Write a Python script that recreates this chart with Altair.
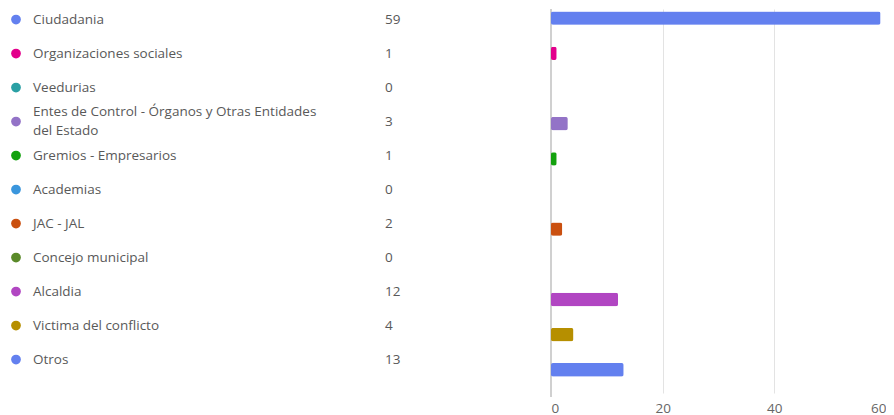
import altair as alt
import pandas as pd

categories = [
    "Ciudadania",
    "Organizaciones sociales",
    "Veedurias",
    "Entes de Control - Órganos y Otras Entidades del Estado",
    "Gremios - Empresarios",
    "Academias",
    "JAC - JAL",
    "Concejo municipal",
    "Alcaldia",
    "Victima del conflicto",
    "Otros",
]
values = [59, 1, 0, 3, 1, 0, 2, 0, 12, 4, 13]
colors = [
    "#6380EF", "#E3008C", "#2AA0A4", "#9373C7", "#13A10E", "#3A96DD",
    "#CA5010", "#5A8A29", "#B146C2", "#B68F00", "#6380EF",
]
x_ticks = [0, 20, 40, 60]

labels = [c.replace(" del Estado", "\ndel Estado") for c in categories]

df = pd.DataFrame({
    "cat": categories,
    "label": labels,
    "value": values,
    "color": colors,
})

FONT = "Open Sans"
TEXT_COLOR = "#595959"
FS = 13.5
H = 384
LINE_H = 19

y_left = alt.Y("cat:N", sort=categories, axis=None,
               scale=alt.Scale(type="point", padding=0.647, align=0.24))

dots = alt.Chart(df).mark_circle(size=95, opacity=1).encode(
    x=alt.value(8),
    y=y_left,
    color=alt.Color("color:N", scale=None),
)

names_single = alt.Chart(df).transform_filter(
    "indexof(datum.label, '\\n') < 0"
).mark_text(
    align="left", baseline="middle", font=FONT, fontSize=FS,
    color=TEXT_COLOR,
).encode(
    x=alt.value(25),
    y=y_left,
    text="label:N",
)

names_multi = alt.Chart(df).transform_filter(
    "indexof(datum.label, '\\n') >= 0"
).mark_text(
    align="left", baseline="middle", font=FONT, fontSize=FS,
    color=TEXT_COLOR, lineBreak="\n", lineHeight=LINE_H, dy=-LINE_H / 2,
).encode(
    x=alt.value(25),
    y=y_left,
    text="label:N",
)

nums = alt.Chart(df).mark_text(
    align="left", baseline="middle", font=FONT, fontSize=FS, color=TEXT_COLOR,
).encode(
    x=alt.value(377),
    y=y_left,
    text="value:Q",
)

left = alt.layer(dots, names_single, names_multi, nums).properties(width=400, height=H)

x_enc = alt.X("value:Q", scale=alt.Scale(domain=[0, 60], nice=False),
              axis=alt.Axis(values=x_ticks, title=None, grid=True, ticks=False,
                            domain=False, labelFont=FONT, labelFontSize=FS,
                            labelColor="#666666", labelPadding=8,
                            gridColor="#e3e3e3", gridWidth=1))

bars = alt.Chart(df).mark_bar(
    cornerRadius=2, strokeWidth=1, strokeOpacity=0.35,
).encode(
    x=x_enc,
    y=alt.Y("cat:N", sort=categories, axis=None,
            scale=alt.Scale(paddingInner=0.62, paddingOuter=0.27, align=0.13)),
    color=alt.Color("color:N", scale=None),
    stroke=alt.Color("color:N", scale=None),
)

zero_line = alt.Chart(pd.DataFrame({"value": [x_ticks[0]]})).mark_rule(
    color="#d0d0d0", strokeWidth=2
).encode(
    x="value:Q",
    y=alt.value(0),
    y2=alt.value(H + 4),
)

right = alt.layer(zero_line, bars).properties(width=335, height=H)

chart = alt.hconcat(left, right, spacing=143, bounds="flush").properties(
    padding=0
).configure_view(stroke=None)

chart.save("out.html", embed_options={"renderer": "svg", "actions": False})
